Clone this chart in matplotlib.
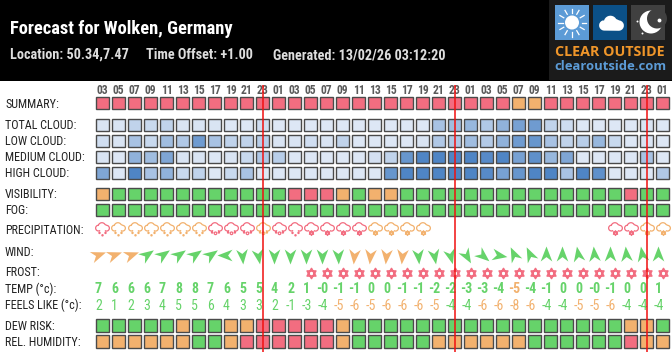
#!/usr/bin/env python3

import numpy as np
import matplotlib
matplotlib.use('Agg')
import matplotlib.pyplot as plt
from matplotlib.colors import LinearSegmentedColormap
from matplotlib.markers import MarkerStyle
from matplotlib.patches import Rectangle, Circle
from matplotlib.path import Path
from matplotlib.transforms import Affine2D

hours = ['03','05','07','09','11','13','15','17','19','21','23','01',
         '03','05','07','09','11','13','15','17','19','21','23','01',
         '03','05','07','09','11','13','15','17','19','21','23','01']

summary    = list('rrrrrrrrrrrrrrrrrrrrrrrrrroorrrrrrrr')
visibility = list('ogggggggggggrrr' + 'ogooggggggggggggggrgg')
fog        = list('gggggggggggggggggggggggggggggggggggg')
dew_risk   = list('gggggoggoorrrrr' + 'oggggggggggggggggg' + 'oog')
humidity   = list('ooooooggorrrrrr' + 'ogggggoooooogggggg' + 'roo')

total_cloud = [15,15,30,25,30,15,15,15,12,12,20,12,12,12,12,
               12,12,12,12,12,12,45,50,55,40,60,75,80,30,22,12,12,12,12,15,12]
low_cloud   = [20,15,45,25,50,40,80,45,30,30,35,15,15,20,15,
               30,12,12,12,12,15,40,40,50,38,60,80,85,45,30,35,55,25,12,15,12]
mid_cloud   = [15,12,60,50,70,15,15,12,15,25,40,35,12,12,12,
               12,12,18,30,85,100,100,100,100,95,100,75,90,55,70,12,12,12,12,45,12]
high_cloud  = [70,12,100,45,60,25,30,12,25,45,12,12,12,12,12,
               12,12,12,85,100,100,100,100,100,95,75,85,100,100,45,100,90,12,12,12,40]

precip_kind = ['rain','rain','rain','rain','rain','rain','rain','sleet','sleet','sleet','sleet','sleet',
               'rain','snow','snow','snow','snow','snow','snow','snow','snow',
               None,None,None,None,None,None,None,None,None,None,None,
               'snow','snow','snow','snow']
precip_risk = list('roooooorrrorrrrrroooo' + 'ggggggggggg' + 'rroo')

wind_dir  = [70,70,70,55,55,55,55,55,270,175,170,180,180,180,180,
             178,185,185,185,185,175,170,165,150,130,100,335,335,0,0,350,355,0,355,350,0]
wind_risk = list('ooogggggggggggg' + 'goooogggggggggggggggg')

frost_from = 13

temp  = ['7','6','6','6','7','8','8','7','6','5','5','4','2','1','-0',
         '-1','-1','0','0','-1','-1','-2','-2','-3','-3','-4','-5','-4','-1','0','0','-0','-1','0','0','1']
feels = ['2','1','2','3','4','5','5','6','4','3','3','2','-1','-3','-4',
         '-5','-6','-5','-6','-6','-6','-5','-4','-4','-6','-6','-8','-6','-4','-4','-5','-5','-6','-4','-4','-4']

# label, y centre in pixels
row_labels = [('SUMMARY:',104),('TOTAL CLOUD:',125.5),('LOW CLOUD:',141.5),('MEDIUM CLOUD:',157.5),
              ('HIGH CLOUD:',173.5),('VISIBILITY:',194),('FOG:',210),('PRECIPITATION:',230.5),
              ('WIND:',252),('FROST:',273),('TEMP (°c):',289),('FEELS LIKE (°c):',305.5),
              ('DEW RISK:',326),('REL. HUMIDITY:',342)]

NARROW = 'Roboto Condensed'
GREEN, ORANGE, RED = '#66d36a', '#f2b16e', '#f26d80'
RISK = {'g': GREEN, 'o': ORANGE, 'r': RED}
cloud_cmap = LinearSegmentedColormap.from_list('cloud', ['#dde7f5', '#4f85c5'])

X0, DX = 102.5, 16.0
CELL = 12.4


def px_size(path):
    # markersize in points that keeps path units as pixels
    return 2 * np.max(np.abs(path.vertices)) * 0.72


def lobe(cx, cy, r, a, b, n=10):
    t = np.radians(np.linspace(a, b, n))
    return np.column_stack([cx + r * np.cos(t), cy + r * np.sin(t)])


def cloud_path(dy=0, scale=1.0, closed=True):
    a, b = (265, -85) if closed else (305, -125)
    pts = np.vstack([lobe(-4, -0.5, 2.9, a, 105), lobe(-0.6, 1.2, 3.7, 165, 30),
                     lobe(4, -0.6, 2.9, 85, b)])
    pts = pts * scale + [0, dy]
    if closed:
        return Path(np.vstack([pts, pts[0]]), closed=True)
    return Path(pts)


def dot(x, y, r=0.6):
    return Path.circle((x, y), r)


def star_path(x=0, y=0, r=5.0):
    a = np.radians([90, 210, 330, 90])
    b = np.radians([270, 390, 510, 270])
    up = np.column_stack([x + r * np.cos(a), y + r * np.sin(a)])
    dn = np.column_stack([x + r * np.cos(b), y + r * np.sin(b)])
    return Path.make_compound_path(Path(up, closed=True), Path(dn, closed=True))


CLOUD = cloud_path(dy=2.9, closed=False)
PRECIP = {
    'rain': Path.make_compound_path(CLOUD, dot(-3, -2.4), dot(3, -2.4), dot(0, -4.8)),
    'sleet': Path.make_compound_path(CLOUD, Path.circle((0, -2.8), 1.3), dot(-3.4, -2), dot(3.4, -2)),
    'snow': Path.make_compound_path(CLOUD, star_path(0, -2.6, 2.4)),
}
ARROW = Path([(0, 9), (5.8, -6), (0, -1.6), (-5.8, -6), (0, 9)], closed=True)
STAR = star_path()

fig = plt.figure(figsize=(6.72, 3.52), dpi=100)
ax = fig.add_axes([0, 0, 1, 1])
ax.set_xlim(0, 672)
ax.set_ylim(352, 0)
ax.axis('off')

# grid axes: x in forecast steps, y still in pixels
gx = fig.add_axes([0, 0, 1, 1])
gx.set_xlim(-X0 / DX, (672 - X0) / DX)
gx.set_ylim(352, 0)
gx.axis('off')
gx.patch.set_alpha(0)
cols = np.arange(len(hours))

# header
ax.add_patch(Rectangle((0, 0), 672, 81, color='black', lw=0))
ax.text(10, 28.5, 'Forecast for Wolken, Germany', color='white', family=NARROW, weight='bold',
        fontsize=13.3, va='center')
for x, s in [(10, 'Location: 50.34,7.47'), (146, 'Time Offset: +1.00'), (273, 'Generated: 13/02/26 03:12:20')]:
    ax.text(x, 55, s, color='#dddddd', family=NARROW, weight='bold', fontsize=10.3, va='center')

# logo
ax.add_patch(Rectangle((549, 0), 123, 80, color='#1b1b1b', lw=0))
ax.add_patch(Rectangle((555, 5), 34, 35, color='#5c9bd6', lw=0))
ax.add_patch(Rectangle((593, 5), 34, 35, color='#0b5087', lw=0))
ax.add_patch(Rectangle((631, 5), 34, 35, color='#404040', lw=0))
ax.add_patch(Circle((572, 22.5), 7, color='white', lw=0))
for a in np.arange(0, 360, 30):
    c, s = np.cos(np.radians(a)), np.sin(np.radians(a))
    ax.plot([572 + 9.5 * c, 572 + 14 * c], [22.5 + 9.5 * s, 22.5 + 14 * s], color='white', lw=0.9)
logo_cloud = cloud_path(scale=1.8)
ax.plot([610.5], [24], marker=logo_cloud, ms=px_size(logo_cloud), mfc='white', mec='white', mew=0)
ax.add_patch(Circle((651, 22), 11.5, color='white', lw=0))
ax.add_patch(Circle((657, 18.5), 10, color='#404040', lw=0))
for x, y, ms in [(637, 21, 2), (659, 20, 4), (642, 33, 2)]:
    ax.plot([x], [y], marker='o', ms=ms * 0.7, color='white', mew=0)
ax.text(610, 52.5, 'CLEAR OUTSIDE', color='#f0962a', family='Open Sans', weight='bold',
        fontsize=10.3, ha='center', va='center')
ax.text(610, 67, 'clearoutside.com', color='#5c9bd6', family='Open Sans', weight='bold',
        fontsize=9.4, ha='center', va='center')

# labels
for s, y in row_labels:
    ax.text(5, y, s, color='#222222', family=NARROW, fontsize=8.7, va='center')


def cells(y, colours):
    gx.bar(cols, CELL, width=CELL / DX, bottom=y - CELL / 2, color=colours, edgecolor='#4a4a4a', linewidth=1.0)


for c, h in zip(cols, hours):
    gx.text(c, 91, h, color='#5a5a5a', family=NARROW, weight='bold', fontsize=8.4, ha='center', va='center')

cells(103.2, [RISK[k] for k in summary])
for y, vals in [(124.7, total_cloud), (140.7, low_cloud), (156.7, mid_cloud), (172.7, high_cloud)]:
    cells(y, [cloud_cmap((v - 12) / 88) for v in vals])
cells(193.7, [RISK[k] for k in visibility])
cells(209.7, [RISK[k] for k in fog])
cells(325.5, [RISK[k] for k in dew_risk])
cells(341.5, [RISK[k] for k in humidity])

for c, kind, risk in zip(cols, precip_kind, precip_risk):
    if kind:
        gx.plot([c], [230], marker=PRECIP[kind], ms=px_size(PRECIP[kind]), mfc='none',
                mec=RISK[risk], mew=0.9)

for c, d, risk in zip(cols, wind_dir, wind_risk):
    m = MarkerStyle(ARROW, transform=Affine2D().rotate_deg(-d))
    gx.plot([c - 5 / DX], [254.5], marker=m, ms=px_size(ARROW), mfc=RISK[risk], mec=RISK[risk], mew=0)

for c in cols[frost_from:]:
    gx.plot([c], [273], marker=STAR, ms=px_size(STAR), mfc='none', mec=RED, mew=1.2)

for c, t, f in zip(cols, temp, feels):
    gx.text(c - 4 / DX, 289, t, color=ORANGE if float(t) <= -5 else GREEN, family=NARROW, weight='bold',
            fontsize=10, ha='center', va='center')
    gx.text(c - 4 / DX, 305.5, f, color=ORANGE if float(f) <= -5 else GREEN, family=NARROW,
            fontsize=10, ha='center', va='center')

gx.vlines([c for c, h in zip(cols, hours) if h == '23'], 85, 352, color='#f01010', lw=1.1, zorder=5)

plt.savefig('out.png', dpi=100)
